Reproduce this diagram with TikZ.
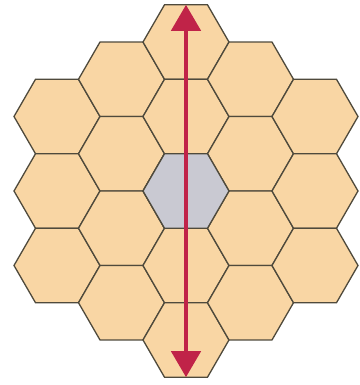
\documentclass[tikz,border=0pt]{standalone}
\usetikzlibrary{shapes.geometric,arrows.meta}

\begin{document}
\begin{tikzpicture}[x=1pt,y=1pt]
    % Define colours
    \definecolor{edgeColour}{HTML}{4F4A3C}
    \definecolor{cellColour}{HTML}{F9D6A4}
    \definecolor{centreGrey}{HTML}{C9C9D2}
    \definecolor{arrowRed}{HTML}{C02348}

    % Define hexagon size
    \def\hexR{43}
    \def\hexH{74.48}

    \tikzset{
        hexcell/.style={regular polygon, regular polygon sides=6, minimum size=2*\hexR pt,
            inner sep=0pt, outer sep=0pt, draw=edgeColour, line width=1.3pt, fill=cellColour},
        bigArrow/.style={arrowRed, line width=4.5pt, {Triangle[width=29pt,length=26pt]}-{Triangle[width=29pt,length=26pt]}}
    }

    \useasboundingbox (-186,-194) rectangle (173,191);

    % Draw the honeycomb, column by column
    \foreach \col/\num/\name in {-2/3/a,-1/4/b,0/5/c,1/4/d,2/3/e} {
        \foreach \row in {1,...,\num} {
            \node[hexcell] (h\name\row) at ({1.5*\col*\hexR}, {((\num+1)/2-\row)*\hexH}) {};
        }
    }

    % Grey centre cell
    \node[hexcell, fill=centreGrey] (centre) at (hc3) {};

    % Arrow across the middle column
    \draw[bigArrow] (hc1.north) -- (hc5.south);

\end{tikzpicture}
\end{document}
